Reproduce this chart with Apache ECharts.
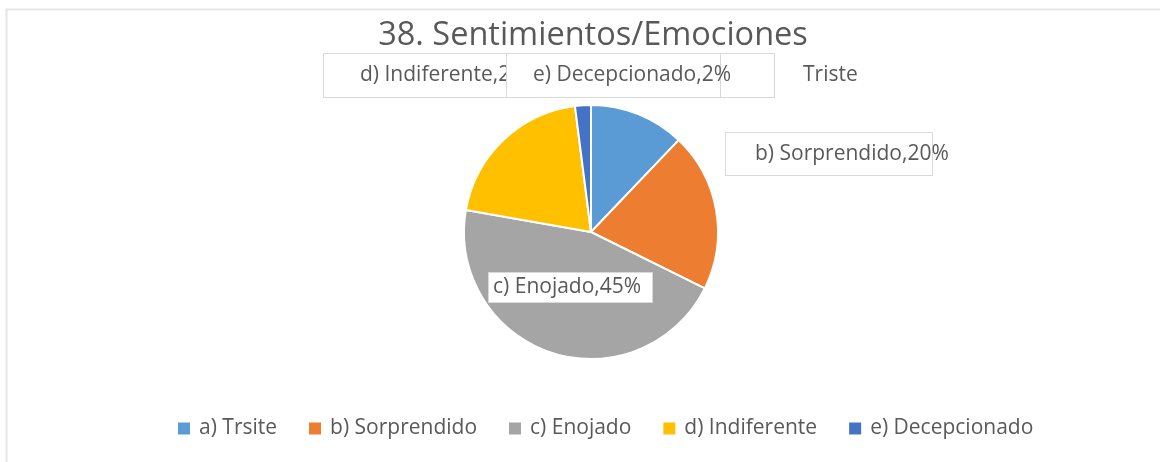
<!DOCTYPE html>
<html>
<head>
<meta charset="utf-8">
<script src="https://cdn.jsdelivr.net/npm/echarts@6/dist/echarts.min.js"></script>
<style>
html,body{margin:0;padding:0;background:#fff;}
#c{width:1160px;height:462px;}
</style>
</head>
<body>
<div id="c"></div>
<script>
// ---- data ----
const titleText = '38. Sentimientos/Emociones';
const categories = ['a) Trsite', 'b) Sorprendido', 'c) Enojado', 'd) Indiferente', 'e) Decepcionado'];
const values = [12, 20, 45, 20, 2];
const firstLabelText = 'Triste';
const colors = ['#5B9BD5', '#ED7D31', '#A5A5A5', '#FFC000', '#4472C4'];

// ---- layout of label boxes (left, top) ----
const labelPos = [
  [560, 54],
  [726, 133],
  [489, 273],
  [324, 54],
  [507, 54]
];
const textColor = '#595959';
const boxBorder = '#d9d9d9';
const FONT = 'Open Sans';
const LFS = 21;

function boxStyle(w, h, padLeft) {
  return {
    width: w - padLeft, height: h, lineHeight: h,
    padding: [0, 0, 0, padLeft], overflow: 'none',
    backgroundColor: '#fff', borderColor: boxBorder, borderWidth: 1
  };
}

const labelStyles = [
  { // a
    formatter: '{box|}{t|' + firstLabelText + '}',
    rich: {
      box: { width: 214, height: 43, backgroundColor: '#fff', borderColor: boxBorder, borderWidth: 1 },
      t: { fontSize: LFS, color: textColor, fontFamily: FONT, padding: [0, 0, 0, 29], lineHeight: 43 }
    }
  },
  boxStyle(206, 42, 29),
  boxStyle(163, 29, 4),
  boxStyle(226, 43, 36),
  boxStyle(213, 43, 26)
];

const data = categories.map((name, i) => ({
  name: name,
  value: values[i],
  itemStyle: { color: colors[i] },
  label: labelStyles[i]
}));

const chart = echarts.init(document.getElementById('c'));
chart.setOption({
  backgroundColor: '#fff',
  animation: false,
  graphic: [{
    type: 'rect',
    shape: { x: 6.5, y: 9.5, width: 1160, height: 460 },
    style: { fill: 'none', stroke: '#e6e6e6', lineWidth: 2 },
    silent: true
  }],
  title: {
    text: titleText,
    left: 588,
    textAlign: 'center',
    top: 14,
    textStyle: { fontSize: 32.5, fontWeight: 'normal', color: textColor, fontFamily: FONT }
  },
  legend: {
    left: 171,
    top: 413,
    itemWidth: 14,
    itemHeight: 14,
    itemGap: 30,
    icon: 'rect',
    textStyle: { fontSize: 21, color: textColor, fontFamily: FONT, padding: [0, 0, 0, 3] },
    data: categories
  },
  series: [{
    type: 'pie',
    center: [591, 232],
    radius: 127,
    startAngle: 90,
    clockwise: true,
    itemStyle: { borderColor: '#fff', borderWidth: 2 },
    label: {
      show: true,
      position: 'outside',
      formatter: function (p) { return p.name + ',' + Math.round(p.percent) + '%'; },
      fontSize: LFS,
      color: textColor,
      fontFamily: FONT,
      align: 'left'
    },
    labelLine: { show: false },
    labelLayout: function (p) {
      const pos = labelPos[p.dataIndex];
      return { x: pos[0], y: pos[1], align: 'left', verticalAlign: 'top' };
    },
    data: data
  }]
});
</script>
</body>
</html>
